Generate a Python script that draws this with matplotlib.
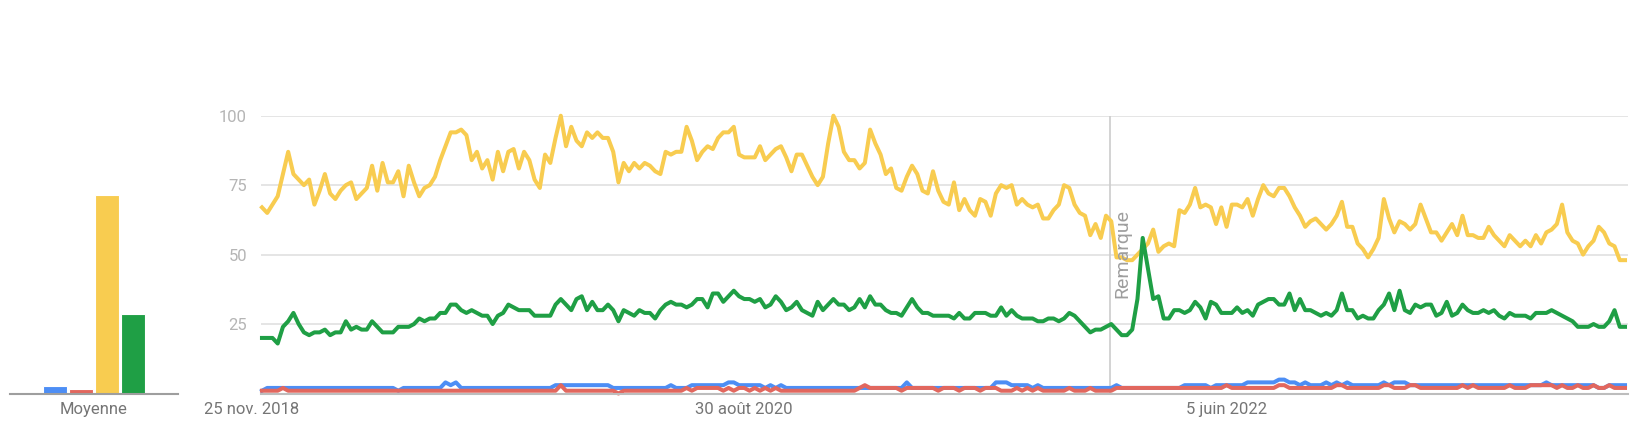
import numpy as np
import pandas as pd
import matplotlib
matplotlib.use('Agg')
import matplotlib.pyplot as plt
import matplotlib.transforms as mtransforms

plt.rcParams['font.family'] = ['Roboto', 'DejaVu Sans']

### Data (weekly) ###
start_date = '2018-11-25'

blue = [1, 2, 2, 2, 2, 2, 2, 2, 2, 2,
        2, 2, 2, 2, 2, 2, 2, 2, 2, 2,
        2, 2, 2, 2, 2, 2, 1, 2, 2, 2,
        2, 2, 2, 2, 2, 4, 3, 4, 2, 2,
        2, 2, 2, 2, 2, 2, 2, 2, 2, 2,
        2, 2, 2, 2, 2, 2, 3, 3, 3, 3,
        3, 3, 3, 3, 3, 3, 3, 2, 2, 2,
        2, 2, 2, 2, 2, 2, 2, 2, 3, 2,
        2, 2, 3, 3, 3, 3, 3, 3, 3, 4,
        4, 3, 3, 3, 3, 3, 2, 3, 2, 3,
        2, 2, 2, 2, 2, 2, 2, 2, 2, 2,
        2, 2, 2, 2, 2, 2, 2, 2, 2, 2,
        2, 2, 2, 4, 2, 2, 2, 2, 2, 2,
        2, 2, 2, 2, 2, 2, 2, 2, 2, 2,
        4, 4, 4, 3, 3, 3, 3, 2, 3, 2,
        2, 2, 2, 2, 2, 2, 2, 2, 2, 2,
        2, 2, 2, 3, 2, 2, 2, 2, 2, 2,
        2, 2, 2, 2, 2, 2, 3, 3, 3, 3,
        3, 2, 3, 3, 3, 3, 3, 3, 4, 4,
        4, 4, 4, 4, 5, 5, 4, 4, 3, 4,
        3, 3, 3, 4, 3, 4, 3, 4, 3, 3,
        3, 3, 3, 3, 4, 3, 4, 4, 4, 3,
        3, 3, 3, 3, 3, 3, 3, 3, 3, 3,
        3, 3, 3, 3, 3, 3, 3, 3, 3, 3,
        3, 3, 3, 3, 3, 4, 3, 3, 3, 3,
        3, 3, 3, 3, 3, 2, 2, 3, 3, 3,
        3]

red = [1, 1, 1, 1, 2, 1, 1, 1, 1, 1,
       1, 1, 1, 1, 1, 1, 1, 1, 1, 1,
       1, 1, 1, 1, 1, 1, 1, 1, 1, 1,
       1, 1, 1, 1, 1, 1, 1, 1, 1, 1,
       1, 1, 1, 1, 1, 1, 1, 1, 1, 1,
       1, 1, 1, 1, 1, 1, 1, 3, 1, 1,
       1, 1, 1, 1, 1, 1, 1, 1, 0, 1,
       1, 1, 1, 1, 1, 1, 1, 1, 1, 1,
       1, 2, 1, 2, 2, 2, 2, 2, 1, 2,
       1, 2, 2, 1, 2, 1, 2, 1, 2, 1,
       1, 1, 1, 1, 1, 1, 1, 1, 1, 1,
       1, 1, 1, 1, 2, 3, 2, 2, 2, 2,
       2, 2, 1, 2, 2, 2, 2, 2, 2, 1,
       2, 2, 2, 1, 2, 2, 2, 1, 2, 2,
       2, 1, 1, 1, 2, 1, 2, 1, 2, 1,
       1, 1, 1, 1, 2, 1, 1, 1, 2, 1,
       1, 1, 1, 2, 2, 2, 2, 2, 2, 2,
       2, 2, 2, 2, 2, 2, 2, 2, 2, 2,
       2, 2, 2, 2, 3, 2, 2, 2, 2, 2,
       2, 2, 2, 2, 3, 3, 2, 2, 2, 2,
       2, 2, 2, 2, 2, 3, 3, 2, 2, 2,
       2, 2, 2, 2, 3, 3, 2, 2, 2, 3,
       3, 2, 2, 2, 2, 2, 2, 2, 2, 3,
       2, 3, 2, 2, 2, 2, 2, 2, 3, 2,
       2, 2, 3, 3, 3, 3, 3, 2, 3, 2,
       2, 3, 2, 2, 3, 2, 2, 3, 2, 2,
       2]

yellow = [67, 65, 68, 71, 79, 87, 79, 77, 75, 77,
          68, 73, 79, 72, 70, 73, 75, 76, 70, 72,
          74, 82, 73, 83, 76, 76, 80, 71, 82, 76,
          71, 74, 75, 78, 84, 89, 94, 94, 95, 93,
          84, 87, 81, 84, 77, 87, 80, 87, 88, 81,
          87, 84, 77, 74, 86, 83, 92, 100, 89, 96,
          91, 89, 94, 92, 94, 92, 92, 87, 76, 83,
          80, 83, 81, 83, 82, 80, 79, 87, 86, 87,
          87, 96, 91, 84, 87, 89, 88, 92, 94, 94,
          96, 86, 85, 85, 85, 89, 84, 86, 88, 89,
          85, 80, 86, 86, 82, 78, 75, 78, 90, 100,
          96, 87, 84, 84, 81, 83, 95, 90, 86, 79,
          81, 74, 73, 78, 82, 79, 73, 72, 80, 73,
          69, 68, 76, 66, 70, 66, 64, 70, 69, 64,
          72, 75, 74, 75, 68, 70, 68, 67, 68, 63,
          63, 66, 68, 75, 74, 68, 65, 64, 57, 61,
          56, 64, 62, 49, 49, 48, 48, 50, 52, 54,
          59, 51, 53, 54, 53, 66, 65, 68, 74, 67,
          68, 67, 61, 67, 60, 68, 68, 67, 70, 64,
          70, 75, 72, 71, 74, 74, 71, 67, 64, 60,
          62, 63, 61, 59, 61, 64, 69, 60, 60, 54,
          52, 49, 52, 56, 70, 63, 58, 62, 61, 59,
          61, 68, 63, 58, 58, 55, 58, 61, 57, 64,
          57, 57, 56, 56, 60, 57, 55, 53, 57, 55,
          53, 55, 53, 57, 54, 58, 59, 61, 68, 58,
          55, 54, 50, 53, 55, 60, 58, 54, 53, 48,
          48]

green = [20, 20, 20, 18, 24, 26, 29, 25, 22, 21,
         22, 22, 23, 21, 22, 22, 26, 23, 24, 23,
         23, 26, 24, 22, 22, 22, 24, 24, 24, 25,
         27, 26, 27, 27, 29, 29, 32, 32, 30, 29,
         30, 29, 28, 28, 25, 28, 29, 32, 31, 30,
         30, 30, 28, 28, 28, 28, 32, 34, 32, 30,
         34, 35, 30, 33, 30, 30, 32, 30, 26, 30,
         29, 28, 30, 29, 29, 27, 30, 32, 33, 32,
         32, 31, 32, 34, 34, 31, 36, 36, 33, 35,
         37, 35, 34, 34, 33, 34, 31, 32, 35, 33,
         30, 31, 33, 30, 29, 28, 33, 30, 32, 34,
         32, 32, 30, 31, 34, 31, 35, 32, 32, 30,
         29, 29, 28, 31, 34, 31, 29, 29, 28, 28,
         28, 28, 27, 29, 27, 27, 29, 29, 29, 28,
         28, 31, 28, 30, 28, 27, 27, 27, 26, 26,
         27, 27, 26, 27, 29, 28, 26, 24, 22, 23,
         23, 24, 25, 23, 21, 21, 23, 34, 56, 45,
         34, 35, 27, 27, 30, 30, 29, 30, 33, 31,
         27, 33, 32, 29, 29, 29, 31, 29, 30, 28,
         32, 33, 34, 34, 32, 32, 36, 30, 34, 30,
         30, 29, 28, 29, 28, 30, 36, 30, 30, 27,
         28, 27, 27, 30, 32, 36, 30, 37, 30, 29,
         32, 31, 32, 32, 28, 29, 33, 28, 29, 32,
         30, 29, 29, 30, 29, 30, 28, 27, 29, 28,
         28, 28, 27, 29, 29, 29, 30, 29, 28, 27,
         26, 24, 24, 24, 25, 24, 24, 26, 30, 24,
         24]

averages = [2.6, 1.6, 71.4, 28.6]
avg_label = 'Moyenne'

xtick_dates = ['2018-11-25', '2020-08-30', '2022-06-05']
xtick_labels = ['25 nov. 2018', '30 août 2020', '5 juin 2022']
yticks = [25, 50, 75, 100]
note_date = '2022-01-01'
note_text = 'Remarque'

colors = ['#4d8ef5', '#e2675e', '#f8cc50', '#1f9f45']

assert len(blue) == len(red) == len(yellow) == len(green)

### Figure layout (pixel based) ###
W, H = 1650, 425
fig = plt.figure(figsize=(W / 100, H / 100), dpi=100)
y0 = (H - 393.5) / H
hh = (393.5 - 115.7) / H
ax = fig.add_axes([261 / W, y0, (1628 - 261) / W, hh])
axb = fig.add_axes([10 / W, y0, 168 / W, hh])

### Main line chart ###
weeks = pd.date_range(start_date, periods=len(yellow), freq='7D')
for series, color in zip([blue, red, yellow, green], colors):
    ax.plot(weeks, series, color=color, lw=2.9, clip_on=False)

ax.set_xlim(weeks[0] - pd.Timedelta(days=1.3), weeks[-1] + pd.Timedelta(days=4))
ax.set_ylim(0, 100)
ax.set_yticks(yticks)
ax.yaxis.grid(True, color='#e0e0e0', lw=1.2)
ax.set_axisbelow(True)
for s in ['top', 'left', 'right']:
    ax.spines[s].set_visible(False)
ax.spines['bottom'].set_color('#bdbdbd')
ax.spines['bottom'].set_linewidth(1.5)

ax.set_xticks(pd.to_datetime(xtick_dates))
ax.set_xticklabels(xtick_labels)
ax.tick_params(axis='x', length=0, pad=6, labelsize=12, labelcolor='#757575')
ax.tick_params(axis='y', length=0, pad=10, labelsize=12, labelcolor='#b5b5b5')
# first date label sits a bit left of its tick in the original
lbl = ax.get_xticklabels()[0]
lbl.set_transform(lbl.get_transform() + mtransforms.ScaledTranslation(-10 / 100, 0, fig.dpi_scale_trans))

note_x = pd.Timestamp(note_date)
ax.axvline(note_x, color='#cccccc', lw=1.2, zorder=1)
ax.annotate(note_text, xy=(note_x, 50.3), xytext=(2, 0), textcoords='offset points',
            rotation=90, ha='left', va='center', fontsize=14, color='#9e9e9e')

### Average bars ###
axb.bar(range(len(averages)), averages, width=0.9, color=colors, edgecolor='white', linewidth=0.8)
axb.set_xlim(-1.73, 4.73)
axb.set_ylim(0, 100)
for s in ['top', 'left', 'right']:
    axb.spines[s].set_visible(False)
axb.spines['bottom'].set_color('#9e9e9e')
axb.spines['bottom'].set_linewidth(1.5)
axb.set_yticks([])
axb.set_xticks([1.5])
axb.set_xticklabels([avg_label])
axb.tick_params(axis='x', length=0, pad=6, labelsize=12, labelcolor='#757575')

plt.savefig('out.png', dpi=100)
